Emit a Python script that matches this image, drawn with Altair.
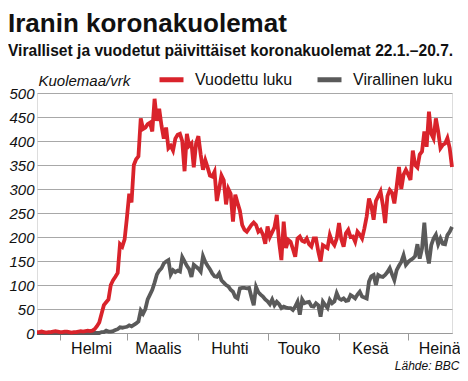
import json
import altair as alt
import pandas as pd

# ---- data, daily from 22.1. to 20.7. ----
START = "2020-01-22"
vuodettu = [
    2, 2, 3, 2, 1, 2, 2, 3, 4, 3, 2, 2, 3, 3, 2, 1, 2, 2, 3, 4, 3, 4, 5, 4,
    5, 8, 14, 22, 40, 58, 64, 70, 100, 110, 117, 125,
    185, 180, 195, 240, 290, 272, 350, 362, 368, 447, 425, 428,
    435, 438, 420, 488, 442, 467, 432, 405, 428, 385, 390, 380,
    405, 413, 415, 400, 337, 415, 390, 395, 345, 395, 410, 372,
    340, 360, 345, 328, 326, 336, 275, 300, 328, 318, 268, 300,
    290, 232, 288, 271, 255, 225, 215, 211, 218, 225, 230, 225,
    211, 215, 205, 186, 222, 200, 210, 220, 246, 190, 152, 232,
    177, 194, 190, 175, 159, 197, 201, 192, 190, 197, 185, 180,
    197, 197, 170, 149, 183, 180, 177, 204, 190, 183, 197, 229,
    195, 180, 208, 215, 200, 201, 190, 211, 205, 197, 218, 243,
    280, 265, 236, 275, 285, 295, 267, 229, 285, 298, 292, 270,
    305, 346, 300, 330, 340, 330, 319, 380, 350, 345, 372, 378,
    420, 388, 461, 415, 405, 447, 420, 385, 392, 395, 406, 385, 346,
]
virallinen = [
    0, 0, 0, 0, 0, 0, 0, 0, 0, 0, 0, 0, 0, 0, 0, 0, 0, 0, 0, 0,
    0, 0, 0, 0, 0, 0, 0, 0,
    2, 2, 5, 3, 3, 4, 6, 8, 12, 11, 12, 13,
    16, 14, 17, 20, 24, 47, 40, 50, 70, 80, 90, 105,
    122, 130, 135, 145, 149, 152, 122, 131, 127, 130, 128, 158,
    149, 140, 133, 117, 142, 138, 134, 128, 160, 148, 140, 133,
    124, 118, 117, 124, 110, 105, 100, 97, 90, 86, 75, 72,
    93, 94, 94, 93, 94, 75, 58, 96, 85, 80, 76, 70,
    66, 60, 70, 58, 65, 60, 52, 55, 53, 52, 52, 48,
    55, 65, 38, 70, 62, 64, 65, 56, 55, 62, 58, 34,
    65, 58, 52, 69, 62, 66, 83, 72, 69, 72, 67, 68,
    79, 76, 72, 80, 86, 76, 74, 72, 107, 118, 121, 100,
    121, 118, 117, 121, 127, 135, 122, 110, 131, 140, 148, 162,
    142, 148, 152, 155, 160, 185, 155, 176, 230, 170, 145, 183,
    197, 205, 185, 197, 186, 185, 204, 211, 221,
]
series_names = ["Vuodettu luku", "Virallinen luku"]
series_colors = ["#d9232b", "#5a5a5a"]
months_fi = ["Tammi", "Helmi", "Maalis", "Huhti", "Touko", "Kesä",
             "Heinä", "Elo", "Syys", "Loka", "Marras", "Joulu"]
y_ticks = [0, 50, 100, 150, 200, 250, 300, 350, 400, 450, 500]

title_text = "Iranin koronakuolemat"
subtitle_text = "Viralliset ja vuodetut päivittäiset koronakuolemat 22.1.–20.7."
y_title = "Kuolemaa/vrk"
source_text = "Lähde: BBC"

# ---- table ----
dates = pd.date_range(START, periods=len(vuodettu), freq="D").strftime("%Y-%m-%d")
df = pd.concat([
    pd.DataFrame({"pvm": dates, "kuolemat": vuodettu, "sarja": series_names[0]}),
    pd.DataFrame({"pvm": dates, "kuolemat": virallinen, "sarja": series_names[1]}),
], ignore_index=True)

FONT = "Liberation Sans, Arial, sans-serif"

month_expr = json.dumps(months_fi, ensure_ascii=False) + "[utcmonth(datum.value)]"

x_enc = alt.X(
    "pvm:T",
    scale=alt.Scale(type="utc", nice=False),
    axis=alt.Axis(
        title=source_text,
        tickCount="month",
        labelExpr=month_expr,
        grid=False,
        domainColor="#9a9a9a",
        tickColor="#9a9a9a",
        tickSize=7,
        labelAlign="center",
        labelOffset=31,
        labelPadding=0,
        labelFont=FONT,
        labelFontSize=16,
        labelColor="#111111",
        labelOverlap=False,
        labelFlush=False,
        titleFont=FONT,
        titleFontSize=12,
        titleFontStyle="italic",
        titleFontWeight="normal",
        titleColor="#111111",
        titleAlign="right",
        titleAnchor="end",
        titleBaseline="alphabetic",
        titleX=422,
        titleY=36,
    ),
)
y_enc = alt.Y(
    "kuolemat:Q",
    scale=alt.Scale(domain=[0, 500], nice=False),
    axis=alt.Axis(
        values=y_ticks,
        title=y_title,
        grid=True,
        gridColor="#a8a8a8",
        gridWidth=1,
        domain=False,
        ticks=False,
        labelFont=FONT,
        labelFontSize=15,
        labelFontStyle="italic",
        labelColor="#111111",
        labelPadding=3,
        titleFont=FONT,
        titleFontSize=15,
        titleFontStyle="italic",
        titleFontWeight="normal",
        titleColor="#111111",
        titleAngle=0,
        titleAlign="left",
        titleBaseline="alphabetic",
        titleX=1,
        titleY=-8,
    ),
)
color_enc = alt.Color(
    "sarja:N",
    scale=alt.Scale(domain=series_names, range=series_colors),
    legend=alt.Legend(
        orient="none",
        legendX=120,
        legendY=-28,
        direction="horizontal",
        title=None,
        symbolType="stroke",
        symbolStrokeWidth=5,
        symbolSize=576,
        labelFont=FONT,
        labelFontSize=16,
        labelColor="#111111",
        labelOffset=9,
        columnPadding=14,
        padding=0,
    ),
)

base = alt.Chart(df).encode(x=x_enc, y=y_enc, color=color_enc)
gray_line = base.transform_filter(alt.datum.sarja == series_names[1]).mark_line(strokeWidth=3.8)
red_line = base.transform_filter(alt.datum.sarja == series_names[0]).mark_line(strokeWidth=3.8)

chart = alt.layer(gray_line, red_line).properties(
    width=415,
    height=240,
    autosize=alt.AutoSizeParams(type="none"),
    padding={"left": 29, "top": 85, "right": 8, "bottom": 40},
    title=alt.TitleParams(
        text=title_text,
        subtitle=subtitle_text,
        anchor="start",
        frame="group",
        dx=-29,
        offset=5,
        font=FONT,
        fontSize=26,
        fontWeight="bold",
        color="#111111",
        subtitleFont=FONT,
        subtitleFontSize=15.6,
        subtitleFontWeight="bold",
        subtitleColor="#111111",
        subtitlePadding=7,
    ),
).configure_view(stroke=None).configure(background="white")

chart.save("out.html", embed_options={"renderer": "svg", "actions": False})
